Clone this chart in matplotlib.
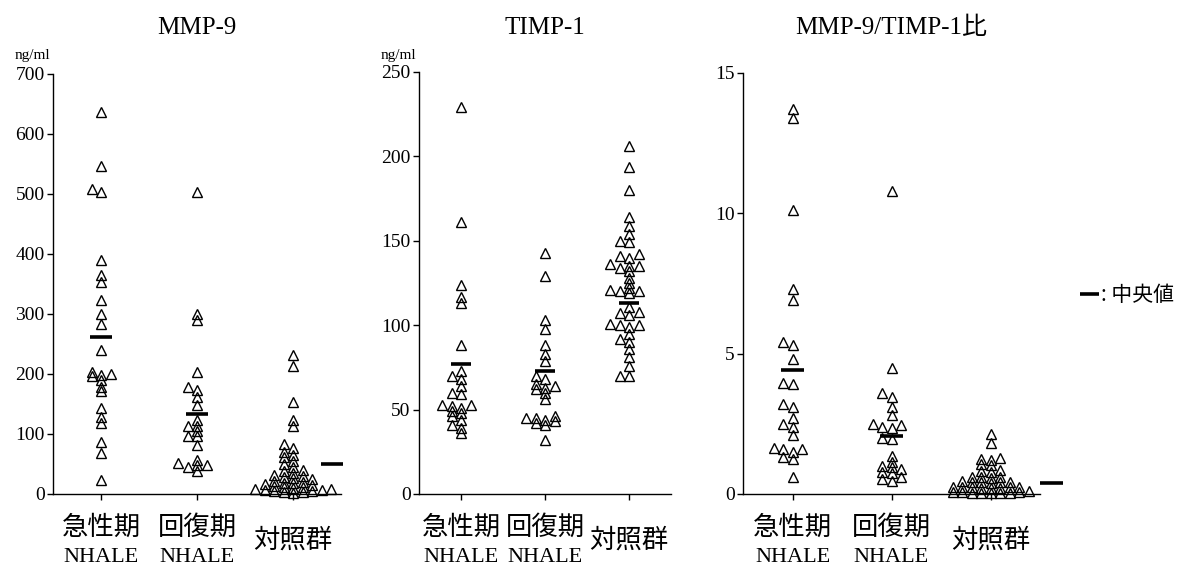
import numpy as np
import matplotlib
matplotlib.use('Agg')
import matplotlib.pyplot as plt
from matplotlib.lines import Line2D
from matplotlib import transforms

# ---------------- data ----------------
group_names = ['急性期', '回復期', '対照群']
group_sub = ['NHALE', 'NHALE', '']
titles = ['MMP-9', 'TIMP-1', 'MMP-9/TIMP-1比']
units = ['ng/ml', 'ng/ml', '']

mmp9_acute = [637, 547, 508, 504, 390, 365, 354, 323, 300, 284, 240, 204, 200, 198,
              196, 190, 179, 171, 143, 129, 118, 87, 68, 23]
mmp9_recov = [504, 300, 290, 203, 178, 173, 162, 148, 124, 113, 113, 105, 97, 97, 82,
              57, 52, 48, 48, 45, 38]
mmp9_ctrl = [232, 213, 154, 123, 113, 83, 76, 70, 65, 62, 55, 50, 45, 40, 38, 35, 32,
             30, 28, 26, 25, 22, 20, 19, 18, 16, 15, 14, 12, 11, 10, 9, 8, 7, 6, 5, 5,
             4, 3, 2]

timp_acute = [229, 161, 124, 117, 113, 88, 73, 70, 68, 64, 60, 59, 53, 53, 52, 51, 49,
              48, 46, 44, 41, 39, 36]
timp_recov = [143, 129, 103, 98, 88, 83, 79, 70, 68, 65, 64, 63, 62, 60, 56, 46, 45, 45,
              44, 43, 42, 41, 32]
timp_ctrl = [206, 194, 180, 164, 159, 154, 150, 149, 142, 141, 140, 136, 135, 135, 134,
             132, 128, 125, 122, 121, 120, 120, 119, 111, 108, 107, 106, 101, 100, 100,
             99, 95, 92, 90, 86, 81, 76, 70, 70]

ratio_acute = [13.7, 13.4, 10.1, 7.3, 6.9, 5.4, 5.3, 4.8, 3.95, 3.9, 3.2, 3.1, 2.7, 2.5,
               2.4, 2.1, 1.65, 1.6, 1.6, 1.5, 1.3, 1.25, 0.6]
ratio_recov = [10.8, 4.5, 3.6, 3.45, 3.1, 2.8, 2.5, 2.45, 2.4, 2.35, 2.0, 1.95, 1.35,
               1.15, 1.0, 0.95, 0.9, 0.8, 0.75, 0.6, 0.55, 0.45]
ratio_ctrl = [2.15, 1.8, 1.28, 1.25, 1.22, 1.07, 1.03, 0.85, 0.82, 0.8, 0.62, 0.6, 0.59,
              0.58, 0.45, 0.44, 0.43, 0.42, 0.41, 0.4, 0.26, 0.25, 0.25, 0.24, 0.24,
              0.23, 0.22, 0.22, 0.09, 0.08, 0.07, 0.06, 0.05, 0.05, 0.04, 0.03, 0.02]

mmp9_medians = [262, 134, 50]
timp_medians = [77, 73, 113]
ratio_medians = [4.4, 2.05, 0.38]

mmp9_ticks = [0, 100, 200, 300, 400, 500, 600, 700]
timp_ticks = [0, 50, 100, 150, 200, 250]
ratio_ticks = [0, 5, 10, 15]

legend_label = '中央値'

# ---------------- style / layout ----------------
SERIF = ['Liberation Serif', 'Noto Sans CJK JP']
CJK = ['Noto Sans CJK JP', 'DejaVu Sans']
W, H = 1188, 569

panels = [
    dict(data=[mmp9_acute, mmp9_recov, mmp9_ctrl], med=mmp9_medians, ticks=mmp9_ticks,
         rect=[53, 494, 288, 420], med_x=[1, 2, 3.41]),
    dict(data=[timp_acute, timp_recov, timp_ctrl], med=timp_medians, ticks=timp_ticks,
         rect=[419, 494, 252, 422], med_x=[1, 2, 3]),
    dict(data=[ratio_acute, ratio_recov, ratio_ctrl], med=ratio_medians, ticks=ratio_ticks,
         rect=[743, 494, 297, 421.3], med_x=[1, 2, 3.62]),
]

fig = plt.figure(figsize=(W / 100, H / 100), dpi=100)
fig.patch.set_facecolor('white')


def swarm_x(ax, xc, vals, w=9.5, h=4.5):
    """Greedy beeswarm in pixel space: each point goes to the nearest free slot."""
    vals = np.asarray(vals, float)
    pix = ax.transData.transform(np.column_stack([np.full(len(vals), xc), vals]))
    pxu = ax.transData.transform((xc + 1, 0))[0] - ax.transData.transform((xc, 0))[0]
    order = np.argsort(pix[:, 1])
    cands = [0.0]
    for k in range(1, 40):
        cands += [-k * w / 2, k * w / 2]
    placed = []
    xs = np.full(len(vals), float(xc))
    for i in order:
        y = pix[i, 1]
        for c in cands:
            ok = True
            for (px, py) in placed:
                if abs(py - y) < h and abs(px - c) < w:
                    ok = False
                    break
            if ok:
                placed.append((c, y))
                xs[i] = xc + c / pxu
                break
    return xs


for pi, p in enumerate(panels):
    x0, yb, pw, ph = p['rect']
    ax = fig.add_axes([x0 / W, (H - yb) / H, pw / W, ph / H])
    ax.set_xlim(0.5, 3.5)
    ax.set_ylim(0, p['ticks'][-1])
    for s in ['top', 'right']:
        ax.spines[s].set_visible(False)
    for s in ['left', 'bottom']:
        ax.spines[s].set_linewidth(1.0)
        ax.spines[s].set_color('black')
    ax.set_yticks(p['ticks'])
    ax.set_yticklabels([str(t) for t in p['ticks']], fontfamily=SERIF, fontsize=14)
    ax.set_xticks([1, 2, 3])
    ax.set_xticklabels([])
    ax.tick_params(axis='both', direction='out', length=4, width=1.0, colors='black', pad=2)

    for gi, vals in enumerate(p['data']):
        xs = swarm_x(ax, gi + 1, vals)
        ax.plot(xs, vals, linestyle='none', marker='^', markersize=7.2,
                markerfacecolor='none', markeredgecolor='black', markeredgewidth=1.0,
                clip_on=False, zorder=3)
        mx = p['med_x'][gi]
        ax.plot([mx - 0.115, mx + 0.115], [p['med'][gi]] * 2, color='black', lw=2.6,
                solid_capstyle='butt', clip_on=False, zorder=4)

    # category labels
    tr = transforms.blended_transform_factory(ax.transData, fig.transFigure)
    for gi in range(3):
        if group_sub[gi]:
            ax.text(gi + 1, 1 - 527 / H, group_names[gi], transform=tr, ha='center',
                    va='center', fontfamily=CJK, fontsize=19)
            ax.text(gi + 1, 1 - 558 / H, group_sub[gi], transform=tr, ha='center',
                    va='center', fontfamily=SERIF, fontsize=16)
        else:
            ax.text(gi + 1, 1 - 540 / H, group_names[gi], transform=tr, ha='center',
                    va='center', fontfamily=CJK, fontsize=19)

    # title
    fig.text((x0 + pw / 2) / W, 1 - 28 / H, titles[pi], ha='center', va='center',
             fontfamily=SERIF, fontsize=18)
    if units[pi]:
        fig.text((x0 - 21) / W, 1 - 56 / H, units[pi], ha='center', va='center',
                 fontfamily=SERIF, fontsize=11)

# legend
fig.add_artist(Line2D([1080 / W, 1099 / W], [1 - 294 / H] * 2, transform=fig.transFigure,
                      color='black', lw=2.6, solid_capstyle='butt'))
fig.text(1101 / W, 1 - 295 / H, ': ' + legend_label, ha='left', va='center',
         fontfamily=CJK, fontsize=15)

fig.savefig('out.png', dpi=100, facecolor='white')
